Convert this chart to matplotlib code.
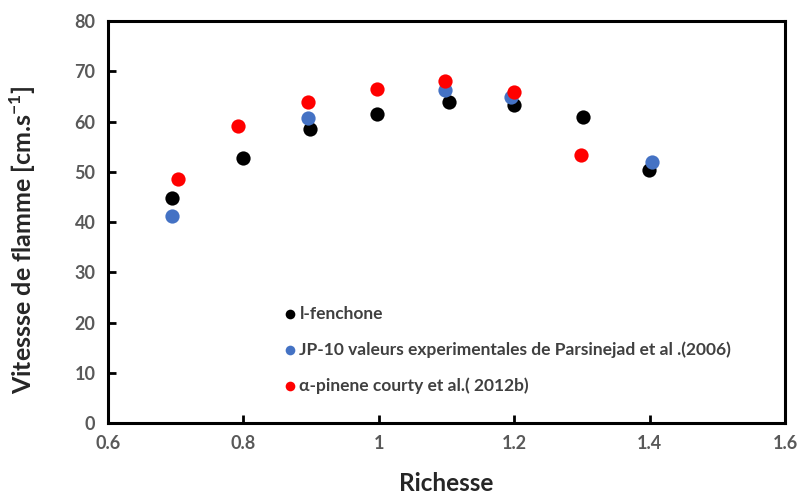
import matplotlib
matplotlib.use("Agg")
import matplotlib.pyplot as plt

plt.rcParams['font.family'] = ['Lato', 'DejaVu Sans']

fen_x = [0.694, 0.800, 0.898, 0.998, 1.103, 1.199, 1.302, 1.399]
fen_y = [44.7, 52.8, 58.6, 61.4, 63.8, 63.2, 60.9, 50.3]
jp_x = [0.694, 0.895, 1.098, 1.196, 1.403]
jp_y = [41.2, 60.7, 66.2, 64.9, 51.9]
pin_x = [0.703, 0.792, 0.895, 0.997, 1.098, 1.200, 1.299]
pin_y = [48.6, 59.2, 63.8, 66.5, 68.0, 65.9, 53.3]

labels = ["l-fenchone",
          "JP-10 valeurs experimentales de Parsinejad et al .(2006)",
          "α-pinene courty et al.( 2012b)"]
colors = ["#000000", "#4472C4", "#FF0000"]

xticks = [0.6, 0.8, 1.0, 1.2, 1.4, 1.6]
xticklabels = ["0.6", "0.8", "1", "1.2", "1.4", "1.6"]
yticks = [0, 10, 20, 30, 40, 50, 60, 70, 80]

fig = plt.figure(figsize=(8.01, 4.97), dpi=100)
ax = fig.add_axes([0.1348, 0.1489, 0.980 - 0.1348, 0.9577 - 0.1489])

for xs, ys, c, lab in [(fen_x, fen_y, colors[0], labels[0]),
                       (jp_x, jp_y, colors[1], labels[1]),
                       (pin_x, pin_y, colors[2], labels[2])]:
    ax.scatter(xs, ys, s=105, color=c, label=lab, zorder=3, linewidths=0)

ax.set_xlim(0.6, 1.6)
ax.set_ylim(0, 80)
ax.set_xticks(xticks)
ax.set_xticklabels(xticklabels)
ax.set_yticks(yticks)
for s in ax.spines.values():
    s.set_linewidth(2.2)
    s.set_color("black")
ax.tick_params(direction='in', length=6, width=2, colors='black',
               labelcolor='#595959', labelsize=13, pad=9)
for t in ax.get_xticklabels() + ax.get_yticklabels():
    t.set_fontweight('bold')

ax.set_xlabel("Richesse", fontsize=17.5, fontweight='bold', color='#262626', labelpad=14)
ax.set_ylabel("Vitessse de flamme [cm.s$^{\\mathregular{-1}}$]", fontsize=18,
              fontweight='bold', color='#262626')
ax.yaxis.set_label_coords(-0.104, 0.455)

leg = ax.legend(loc='upper left', bbox_to_anchor=(0.238, 0.33), frameon=False,
                markerscale=0.68, handletextpad=0.25, labelspacing=1.12,
                prop={'size': 12.5, 'weight': 'bold'}, handlelength=0.6)
for t in leg.get_texts():
    t.set_color('#404040')

fig.savefig("out.png", dpi=100)
